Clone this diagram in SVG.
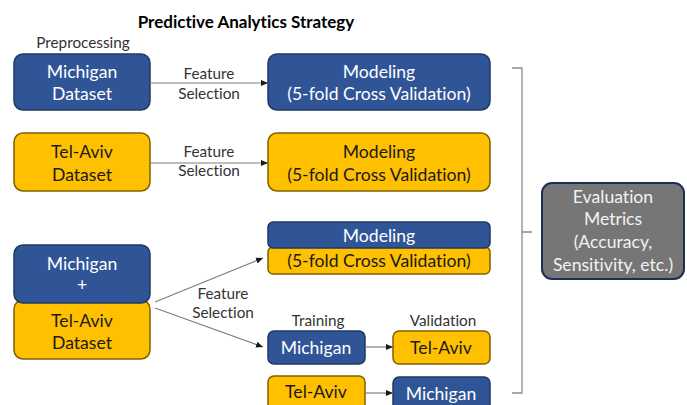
<svg xmlns="http://www.w3.org/2000/svg" width="687" height="405" viewBox="0 0 687 405">
  <style>
    text { font-family: Lato, "Liberation Sans", sans-serif; text-anchor: middle; font-variant-ligatures: none; }
    .blue { fill: #2f5597; stroke: #1f3864; stroke-width: 1.5; }
    .gold { fill: #ffc000; stroke: #806000; stroke-width: 1.5; }
    .wt { fill: #ffffff; font-size: 17.6px; }
    .bt { fill: #1a1a1a; font-size: 17.6px; }
    .lbl { fill: #333333; font-size: 15.3px; }
    .ev { fill: #f2f2f2; font-size: 17.6px; }
    .conn { stroke: #7f7f7f; stroke-width: 1.2; fill: none; }
    .bracket { stroke: #8c8c8c; stroke-width: 1.3; fill: none; }
  </style>
  <defs>
    <marker id="arr" markerWidth="8" markerHeight="8" refX="7" refY="4" orient="auto" markerUnits="userSpaceOnUse">
      <path d="M0,1 L7,4 L0,7 Z" fill="#1a1a1a"/>
    </marker>
  </defs>
  <rect width="687" height="405" fill="#ffffff"/>

  <text x="246" y="28" style="font-size:17px;font-weight:bold;fill:#000">Predictive Analytics Strategy</text>
  <text x="83" y="48" class="lbl">Preprocessing</text>

  <!-- Row 1: Michigan -->
  <g id="michigan-dataset">
    <rect class="blue" x="14" y="54" width="136" height="56" rx="9"/>
    <text class="wt" x="82" y="78">Michigan</text>
    <text class="wt" x="82" y="100">Dataset</text>
  </g>
  <g id="modeling-michigan">
    <rect class="blue" x="268" y="54" width="222" height="56" rx="9"/>
    <text class="wt" x="379" y="78">Modeling</text>
    <text class="wt" x="379" y="100">(5-fold Cross Validation)</text>
  </g>

  <!-- Row 2: Tel-Aviv -->
  <g id="telaviv-dataset">
    <rect class="gold" x="14" y="133" width="136" height="58" rx="9"/>
    <text class="bt" x="82" y="158">Tel-Aviv</text>
    <text class="bt" x="82" y="181">Dataset</text>
  </g>
  <g id="modeling-telaviv">
    <rect class="gold" x="268" y="133" width="222" height="58" rx="9"/>
    <text class="bt" x="379" y="158">Modeling</text>
    <text class="bt" x="379" y="181">(5-fold Cross Validation)</text>
  </g>

  <!-- Row 3: combined -->
  <g id="combined-dataset">
    <rect class="gold" x="14" y="300" width="136" height="59" rx="9"/>
    <rect class="blue" x="14" y="245" width="136" height="58" rx="9"/>
    <text class="wt" x="82" y="270">Michigan</text>
    <text class="wt" x="82" y="291">+</text>
    <text class="bt" x="82" y="327">Tel-Aviv</text>
    <text class="bt" x="82" y="349">Dataset</text>
  </g>
  <g id="modeling-combined">
    <rect class="gold" x="268" y="247" width="222" height="27" rx="5"/>
    <rect class="blue" x="268" y="222" width="222" height="26" rx="5"/>
    <text class="wt" x="379" y="242">Modeling</text>
    <text class="bt" x="379" y="267">(5-fold Cross Validation)</text>
  </g>

  <text class="lbl" x="318" y="326">Training</text>
  <text class="lbl" x="443" y="326">Validation</text>
  <g id="train-michigan">
    <rect class="blue" x="268" y="331" width="97" height="33" rx="6"/>
    <text class="wt" x="316" y="354">Michigan</text>
  </g>
  <g id="valid-telaviv">
    <rect class="gold" x="393" y="331" width="97" height="33" rx="6"/>
    <text class="bt" x="441" y="354">Tel-Aviv</text>
  </g>
  <g id="train-telaviv">
    <rect class="gold" x="268" y="376" width="97" height="40" rx="6"/>
    <text class="bt" x="316" y="398">Tel-Aviv</text>
  </g>
  <g id="valid-michigan">
    <rect class="blue" x="393" y="377" width="97" height="40" rx="6"/>
    <text class="wt" x="441" y="400">Michigan</text>
  </g>

  <g id="evaluation-metrics">
    <rect x="542" y="183" width="142" height="96" rx="10" fill="#767676" stroke="#1f2d5a" stroke-width="2"/>
    <text class="ev" x="613" y="203">Evaluation</text>
    <text class="ev" x="613" y="225">Metrics</text>
    <text class="ev" x="613" y="248">(Accuracy,</text>
    <text class="ev" x="613" y="271">Sensitivity, etc.)</text>
  </g>

  <g id="connectors">
    <line class="conn" x1="150" y1="83" x2="268" y2="83" marker-end="url(#arr)"/>
    <line class="conn" x1="150" y1="163" x2="268" y2="163" marker-end="url(#arr)"/>
    <line class="conn" x1="155" y1="302" x2="263" y2="258" marker-end="url(#arr)"/>
    <line class="conn" x1="155" y1="308" x2="263" y2="347" marker-end="url(#arr)"/>
    <line class="conn" x1="365" y1="347" x2="393" y2="347" marker-end="url(#arr)"/>
    <line class="conn" x1="365" y1="393" x2="393" y2="393" marker-end="url(#arr)"/>
    <path class="bracket" d="M512,68 H522 V393 H512 M522,232 H532"/>
  </g>

  <text class="lbl" x="209" y="79">Feature</text>
  <text class="lbl" x="209" y="99">Selection</text>
  <text class="lbl" x="209" y="157">Feature</text>
  <text class="lbl" x="209" y="176">Selection</text>
  <text class="lbl" x="223" y="299">Feature</text>
  <text class="lbl" x="223" y="318">Selection</text>
</svg>
